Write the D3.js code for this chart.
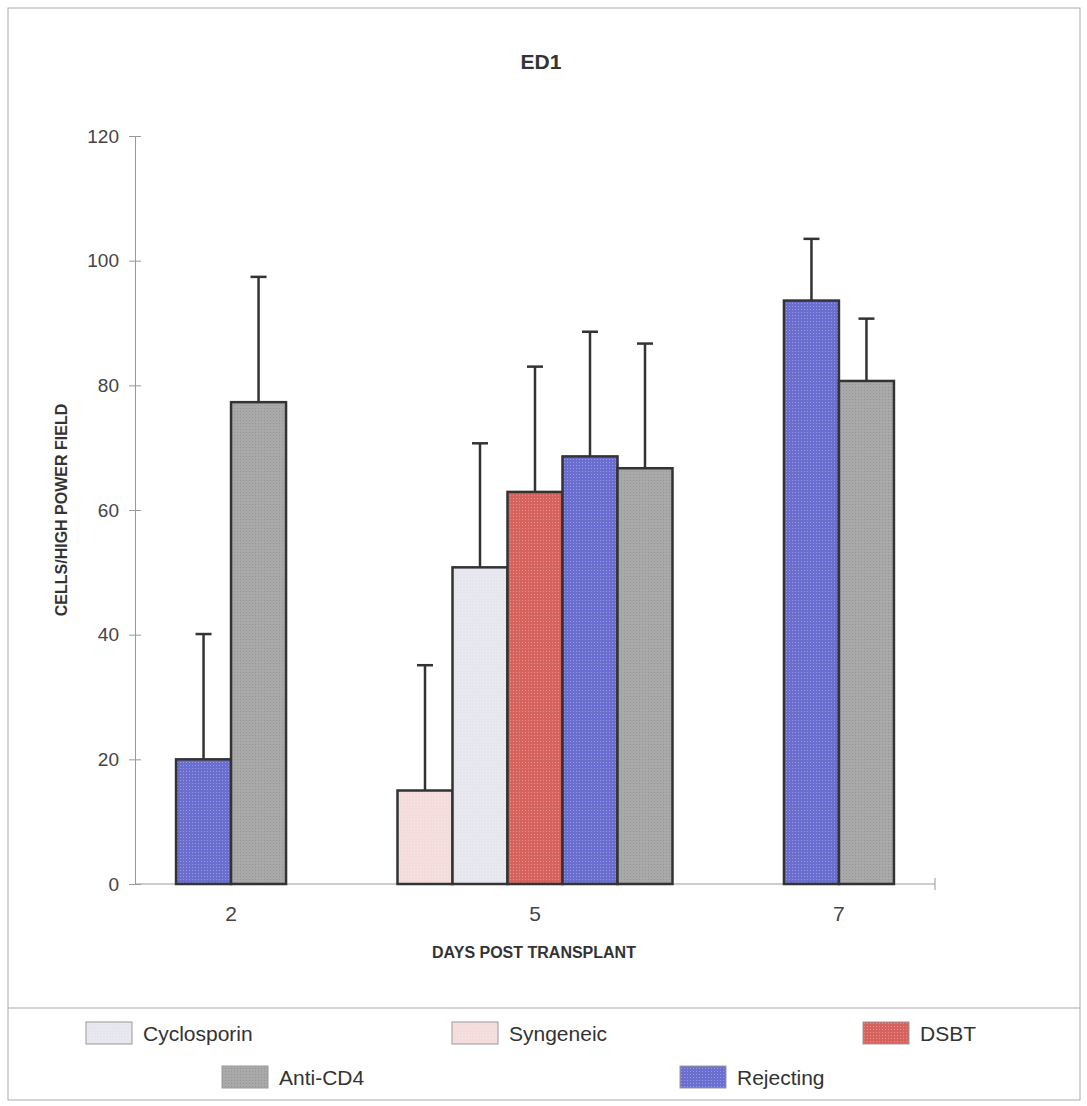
<!DOCTYPE html>
<html>
<head>
<meta charset="utf-8">
<script src="https://cdn.jsdelivr.net/npm/d3@7"></script>
<style>
body { margin: 0; background: #fff; }
text { font-family: "Liberation Sans", Arial, sans-serif; }
</style>
</head>
<body>
<script>
var days = ['2', '5', '7'];
var series = ['Syngeneic', 'Cyclosporin', 'DSBT', 'Rejecting', 'Anti-CD4'];
// mean per day (null = no bar)
var syngeneic = [null, 15, null];
var cyclosporin = [null, 50.8, null];
var dsbt = [null, 62.9, null];
var rejecting = [20, 68.6, 93.6];
var antiCD4 = [77.3, 66.7, 80.7];
// top of error bar per day
var syngeneicErr = [null, 35.1, null];
var cyclosporinErr = [null, 70.7, null];
var dsbtErr = [null, 83.0, null];
var rejectingErr = [40.1, 88.6, 103.5];
var antiCD4Err = [97.4, 86.7, 90.7];
var yTicks = [0, 20, 40, 60, 80, 100, 120];
var legendRow1 = ['Cyclosporin', 'Syngeneic', 'DSBT'];
var legendRow2 = ['Anti-CD4', 'Rejecting'];

var means = {'Syngeneic': syngeneic, 'Cyclosporin': cyclosporin, 'DSBT': dsbt, 'Rejecting': rejecting, 'Anti-CD4': antiCD4};
var errs = {'Syngeneic': syngeneicErr, 'Cyclosporin': cyclosporinErr, 'DSBT': dsbtErr, 'Rejecting': rejectingErr, 'Anti-CD4': antiCD4Err};
var colors = {'Syngeneic': '#f5dcdc', 'Cyclosporin': '#e6e6ee', 'DSBT': '#d6625e', 'Rejecting': '#6a6fcf', 'Anti-CD4': '#a9a9a9'};

var w = 1087, h = 1106;
var plotLeft = 135, plotRight = 935, plotTop = 136, plotBottom = 884;

var svg = d3.select('body').append('svg')
    .attr('width', w)
    .attr('height', h);

// light texture for the bars
var defs = svg.append('defs');
series.forEach(function(s, i) {
    var p = defs.append('pattern')
        .attr('id', 'pat' + i)
        .attr('width', 3).attr('height', 3)
        .attr('patternUnits', 'userSpaceOnUse');
    p.append('rect').attr('width', 3).attr('height', 3).attr('fill', colors[s]);
    p.append('rect').attr('width', 1).attr('height', 1)
        .attr('fill', s == 'Anti-CD4' ? '#8f8f8f' : '#ffffff')
        .attr('opacity', s == 'Anti-CD4' ? 0.8 : 0.3);
});
function fillOf(s) { return 'url(#pat' + series.indexOf(s) + ')'; }

// frame
svg.append('rect')
    .attr('x', 8).attr('y', 8)
    .attr('width', 1072).attr('height', 1092)
    .attr('fill', 'none').attr('stroke', '#aaa').attr('stroke-width', 1);
svg.append('line')
    .attr('x1', 8).attr('x2', 1080).attr('y1', 1008).attr('y2', 1008)
    .attr('stroke', '#aaa');

var x = d3.scalePoint().domain(days).range([plotLeft, plotRight]).padding(0.316);
var y = d3.scaleLinear().domain([0, 120]).range([plotBottom, plotTop]);
var barW = 55;

// axes
var yAxis = svg.append('g')
    .attr('transform', 'translate(' + plotLeft + ',0)')
    .call(d3.axisLeft(y).tickValues(yTicks).tickSize(6).tickSizeOuter(0).tickPadding(10));
yAxis.select('.domain').attr('stroke', '#999');
yAxis.selectAll('.tick line').attr('stroke', '#999').attr('x2', 6).attr('x1', -6);
yAxis.selectAll('.tick text')
    .attr('font-size', 19).attr('fill', '#444')
    .attr('font-family', '"Liberation Sans", Arial, sans-serif');

svg.append('line')
    .attr('x1', plotLeft).attr('x2', plotRight).attr('y1', plotBottom).attr('y2', plotBottom)
    .attr('stroke', '#999');
svg.append('line')
    .attr('x1', plotRight).attr('x2', plotRight).attr('y1', plotBottom - 6).attr('y2', plotBottom + 6)
    .attr('stroke', '#999');

svg.selectAll('.xlab')
    .data(days)
    .enter().append('text')
    .attr('x', function(d) { return x(d); })
    .attr('y', 921)
    .attr('text-anchor', 'middle')
    .attr('font-size', 21).attr('fill', '#444')
    .text(function(d) { return d; });

// bars
days.forEach(function(d, i) {
    var present = series.filter(function(s) { return means[s][i] != null; });
    var inner = d3.scaleBand().domain(present)
        .range([x(d) - present.length * barW / 2, x(d) + present.length * barW / 2]);
    var g = svg.append('g');
    g.selectAll('line.err')
        .data(present)
        .enter().append('line')
        .attr('x1', function(s) { return inner(s) + barW / 2; })
        .attr('x2', function(s) { return inner(s) + barW / 2; })
        .attr('y1', function(s) { return y(means[s][i]); })
        .attr('y2', function(s) { return y(errs[s][i]); })
        .attr('stroke', '#333').attr('stroke-width', 2.5);
    g.selectAll('line.cap')
        .data(present)
        .enter().append('line')
        .attr('x1', function(s) { return inner(s) + barW / 2 - 8; })
        .attr('x2', function(s) { return inner(s) + barW / 2 + 8; })
        .attr('y1', function(s) { return y(errs[s][i]); })
        .attr('y2', function(s) { return y(errs[s][i]); })
        .attr('stroke', '#333').attr('stroke-width', 2.5);
    g.selectAll('rect')
        .data(present)
        .enter().append('rect')
        .attr('x', function(s) { return inner(s); })
        .attr('y', function(s) { return y(means[s][i]); })
        .attr('width', inner.bandwidth())
        .attr('height', function(s) { return y(0) - y(means[s][i]); })
        .attr('fill', function(s) { return fillOf(s); })
        .attr('stroke', '#333').attr('stroke-width', 2.5);
});

// titles
svg.append('text')
    .attr('x', 541).attr('y', 69)
    .attr('text-anchor', 'middle')
    .attr('font-size', 21).attr('font-weight', 'bold').attr('fill', '#333')
    .text('ED1');
svg.append('text')
    .attr('x', 534).attr('y', 958)
    .attr('text-anchor', 'middle')
    .attr('font-size', 16).attr('font-weight', 'bold').attr('fill', '#333')
    .text('DAYS POST TRANSPLANT');
svg.append('text')
    .attr('transform', 'translate(67,510)rotate(-90)')
    .attr('text-anchor', 'middle')
    .attr('font-size', 16).attr('font-weight', 'bold').attr('fill', '#333')
    .text('CELLS/HIGH POWER FIELD');

// legend
var legX1 = [86, 452, 863];
var legX2 = [222, 680];
function legend(items, xs, cy) {
    var g = svg.append('g');
    g.selectAll('rect')
        .data(items)
        .enter().append('rect')
        .attr('x', function(s, j) { return xs[j]; })
        .attr('y', cy - 11)
        .attr('width', 46).attr('height', 22)
        .attr('fill', function(s) { return fillOf(s); })
        .attr('stroke', '#999').attr('stroke-width', 1);
    g.selectAll('text')
        .data(items)
        .enter().append('text')
        .attr('x', function(s, j) { return xs[j] + 57; })
        .attr('y', cy + 8)
        .attr('font-size', 21).attr('fill', '#333')
        .text(function(s) { return s; });
}
legend(legendRow1, legX1, 1033);
legend(legendRow2, legX2, 1077);
</script>
</body>
</html>
